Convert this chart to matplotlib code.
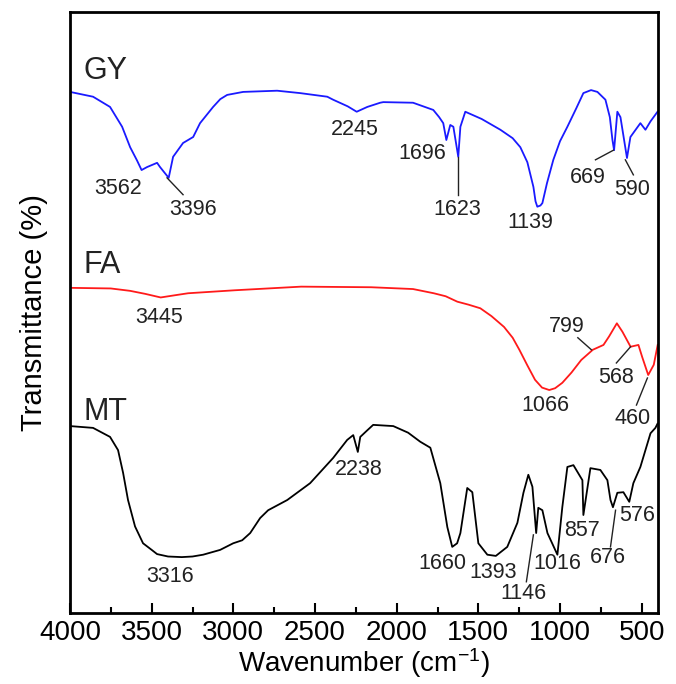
import matplotlib.pyplot as plt
from matplotlib.ticker import MultipleLocator

plt.rcParams['font.family'] = ['Liberation Sans', 'DejaVu Sans']
plt.rcParams['mathtext.default'] = 'regular'

# ---- spectra (wavenumber, transmittance in arbitrary offset units) ----
gy_w = [4000, 3859, 3755, 3681, 3632, 3590, 3562, 3528, 3467, 3449, 3396, 3369,
        3308, 3246, 3204, 3124, 3080, 3038, 2940, 2732, 2591, 2425, 2389, 2300,
        2245, 2180, 2101, 2082, 1900, 1776, 1740, 1715, 1696, 1672, 1653, 1623,
        1610, 1580, 1480, 1365, 1290, 1243, 1200, 1163, 1150, 1139, 1120, 1108,
        1080, 1041, 1000, 955, 900, 857, 810, 771, 722, 695, 679, 669, 649, 630,
        590, 569, 508, 477, 446, 403]
gy_t = [86.7, 85.9, 84.2, 80.9, 77.5, 75.3, 73.7, 74.2, 74.9, 74.2, 72.4, 75.9,
        78.2, 79.2, 81.5, 84.2, 85.5, 86.2, 86.7, 86.9, 86.5, 85.9, 85.4, 84.3,
        83.4, 84.2, 84.9, 85.0, 84.9, 83.7, 82.5, 81.5, 78.7, 81.2, 80.9, 75.9,
        80.9, 83.4, 82.2, 80.4, 79.0, 77.5, 75.0, 70.9, 68.5, 67.6, 67.8, 68.2,
        71.5, 75.4, 78.5, 80.9, 84.0, 86.5, 87.0, 86.7, 85.4, 82.5, 78.7, 77.0,
        83.4, 82.5, 75.7, 79.2, 81.5, 80.4, 81.8, 83.4]

fa_w = [4000, 3751, 3632, 3540, 3445, 3350, 3277, 2989, 2585, 2156, 1900, 1773,
        1700, 1629, 1560, 1488, 1420, 1343, 1290, 1249, 1200, 1153, 1110, 1066,
        1030, 986, 930, 870, 799, 734, 700, 652, 618, 568, 520, 497, 460, 426,
        402]
fa_t = [54.1, 54.0, 53.6, 53.1, 52.5, 52.9, 53.2, 53.7, 54.3, 54.2, 53.9, 53.2,
        52.7, 51.8, 51.3, 50.7, 49.4, 47.6, 45.8, 43.8, 41.2, 38.8, 37.5, 37.1,
        37.4, 38.3, 40.0, 42.1, 43.8, 44.6, 46.0, 48.2, 46.8, 44.3, 44.6, 42.6,
        39.6, 41.3, 44.6]

mt_w = [4000, 3859, 3755, 3706, 3675, 3645, 3602, 3553, 3500, 3467, 3400, 3316,
        3250, 3185, 3081, 3001, 2946, 2897, 2836, 2787, 2670, 2530, 2389, 2303,
        2266, 2238, 2223, 2180, 2144, 2021, 1930, 1856, 1794, 1733, 1690, 1660,
        1630, 1610, 1568, 1537, 1500, 1445, 1393, 1323, 1261, 1224, 1194, 1169,
        1146, 1133, 1108, 1077, 1016, 986, 955, 918, 863, 857, 814, 753, 710,
        691, 676, 649, 612, 576, 551, 508, 446, 416, 403]
mt_t = [31.1, 30.8, 29.3, 27.1, 23.3, 18.8, 14.4, 11.6, 10.5, 9.8, 9.4, 9.3,
        9.4, 9.7, 10.5, 11.6, 12.1, 13.3, 15.8, 17.1, 18.8, 21.6, 25.8, 28.8,
        29.6, 26.8, 29.3, 30.4, 31.3, 31.1, 30.0, 28.5, 27.5, 21.6, 14.3, 11.0,
        11.6, 13.3, 20.8, 20.1, 11.6, 9.7, 9.5, 11.0, 15.0, 20.0, 23.0, 21.0,
        13.3, 17.5, 17.1, 13.3, 9.7, 17.6, 24.3, 24.6, 22.1, 16.3, 24.1, 23.8,
        22.1, 18.8, 17.6, 20.0, 20.1, 18.5, 21.6, 24.3, 29.9, 30.8, 31.5]

# ---- peak labels: text, text x, text y ----
peak_labels = [
    ('3562', 3706, 70.7), ('3396', 3246, 67.1), ('2245', 2254, 80.4),
    ('1696', 1843, 76.5), ('1623', 1629, 67.1), ('1139', 1182, 64.9),
    ('669', 832, 72.4), ('590', 557, 70.4),
    ('3445', 3455, 49.1), ('1066', 1090, 34.6), ('799', 961, 47.6),
    ('568', 655, 39.1), ('460', 557, 32.4),
    ('2238', 2235, 23.8), ('3316', 3387, 6.0), ('1660', 1721, 8.3),
    ('1393', 1408, 6.8), ('1146', 1224, 3.3), ('1016', 1016, 8.3),
    ('857', 863, 13.8), ('676', 710, 9.3), ('576', 526, 16.3),
]
# leader lines: x0, y0, x1, y1
leaders = [
    (3406, 72.4, 3308, 69.6), (1623, 75.9, 1623, 69.6),
    (673, 77.0, 783, 75.4), (600, 75.4, 551, 72.9),
    (891, 45.8, 808, 43.8), (655, 41.6, 568, 44.3), (465, 39.1, 532, 34.6),
    (1206, 5.2, 1163, 13.0), (691, 11.0, 660, 17.1),
]
names = ['GY', 'FA', 'MT']
name_y = [90.1, 57.9, 33.4]

fig = plt.figure(figsize=(6.76, 6.84), dpi=100)
ax = fig.add_axes([0.1036, 0.1038, 0.8698, 0.8787])

ax.plot(gy_w, gy_t, color='#1a1aff', lw=1.3)
ax.plot(fa_w, fa_t, color='#ff1a1a', lw=1.3)
ax.plot(mt_w, mt_t, color='black', lw=1.3)

for txt, x, y in peak_labels:
    ax.text(x, y, txt, fontsize=15.5, color='#222222', ha='center', va='center')
for x0, y0, x1, y1 in leaders:
    ax.plot([x0, x1], [y0, y1], color='#222222', lw=1.0)
for nm, y in zip(names, name_y):
    ax.text(3915, y, nm, fontsize=22, color='#222222', ha='left', va='center')

ax.set_xlim(4000, 400)
ax.set_ylim(0, 100)
ax.xaxis.set_major_locator(MultipleLocator(500))
ax.xaxis.set_minor_locator(MultipleLocator(250))
ax.tick_params(axis='x', which='major', direction='in', length=7, width=1.5,
               labelsize=20, pad=5, top=False)
ax.tick_params(axis='x', which='minor', direction='in', length=4, width=1.5, top=False)
ax.set_yticks([])
for sp in ax.spines.values():
    sp.set_linewidth(2)

ax.set_xlabel('Wavenumber (cm$^{-1}$)', fontsize=20, labelpad=0)
ax.set_ylabel('Transmittance (%)', fontsize=21, labelpad=16)

fig.savefig('out.png', dpi=100)
